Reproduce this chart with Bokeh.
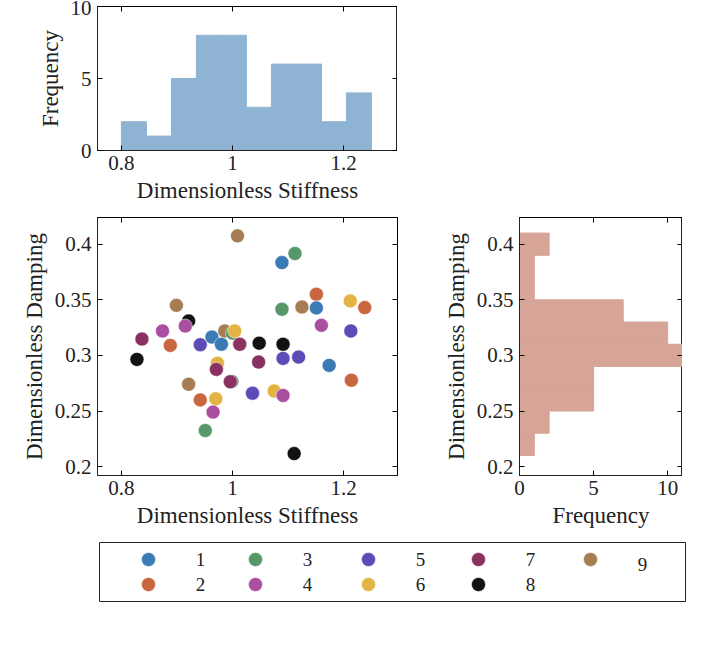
from bokeh.plotting import figure
from bokeh.layouts import column, row
from bokeh.models import LinearAxis, FixedTicker, Range1d, ColumnDataSource
from bokeh.core.properties import value
from bokeh.embed import file_html
from bokeh.resources import INLINE

stiff = [1.009,1.1125,1.089,1.151,1.212,1.238,1.089,1.125,1.151,0.899,0.921,0.915,0.874,0.837,0.888,
         0.942,0.963,0.980,0.986,1.000,1.004,1.013,1.048,1.091,1.160,1.213,0.828,0.973,0.971,1.047,
         1.091,1.119,1.174,0.921,0.999,0.996,1.214,1.036,1.075,1.091,0.942,0.970,0.965,0.951,1.111]
damp = [0.4075,0.3916,0.3835,0.355,0.349,0.343,0.3415,0.3435,0.3427,0.345,0.331,0.3264,0.322,0.3147,0.309,
        0.3096,0.3165,0.310,0.322,0.320,0.322,0.310,0.311,0.310,0.327,0.322,0.2964,0.293,0.2874,0.294,
        0.2973,0.2985,0.291,0.274,0.2766,0.2763,0.2777,0.266,0.268,0.264,0.260,0.261,0.249,0.2324,0.2117]
group = [9,3,1,2,6,2,3,9,1,9,8,4,4,7,2,
         5,1,1,9,3,6,7,8,8,4,5,8,6,7,7,
         5,5,1,9,3,7,2,5,6,4,2,6,4,3,8]
colors = {1:"#3b7ab5",2:"#c9653f",3:"#56986a",4:"#aa4fa0",5:"#5e4bb7",6:"#e3b443",7:"#8b3161",8:"#121212",9:"#a67c52"}

stiff_edges = [0.8,0.845,0.89,0.935,0.98,1.025,1.07,1.115,1.16,1.205,1.25]
stiff_counts = [2,1,5,8,8,3,6,6,2,4]
damp_edges = [0.21,0.23,0.25,0.27,0.29,0.31,0.33,0.35,0.37,0.39,0.41]
damp_counts = [1,2,5,5,11,10,7,1,1,2]

FONT = "'Liberation Serif', 'Times New Roman', serif"
XR = (0.757, 1.297)
YR = (0.192, 0.424)

def style(p, xt, yt, xlab, ylab):
    p.xaxis.ticker = FixedTicker(ticks=xt)
    p.yaxis.ticker = FixedTicker(ticks=yt)
    for ax in (p.xaxis[0], p.yaxis[0]):
        ax.major_tick_in = 5; ax.major_tick_out = 0; ax.minor_tick_line_color = None
        ax.major_label_text_font = FONT; ax.major_label_text_font_size = "21px"
        ax.axis_label_text_font = FONT; ax.axis_label_text_font_size = "23px"
        ax.axis_label_text_font_style = "normal"; ax.axis_line_color = "#222222"
        ax.major_label_text_color = "#222222"; ax.axis_label_text_color = "#222222"
    p.xaxis.axis_label = xlab; p.yaxis.axis_label = ylab
    ax2 = LinearAxis(ticker=FixedTicker(ticks=xt), major_label_text_font_size="0px", major_tick_in=5,
                     major_tick_out=0, minor_tick_line_color=None, major_label_standoff=0)
    ay2 = LinearAxis(ticker=FixedTicker(ticks=yt), major_label_text_font_size="0px", major_tick_in=5,
                     major_tick_out=0, minor_tick_line_color=None, major_label_standoff=0)
    p.add_layout(ax2, "above"); p.add_layout(ay2, "right")
    p.grid.visible = False
    p.outline_line_color = "#222222"
    p.yaxis[0].major_label_standoff = 6

# top histogram
top = figure(frame_width=300, frame_height=144, output_backend="svg", toolbar_location=None,
             x_range=Range1d(*XR), y_range=Range1d(0, 10),
             min_border_left=97, min_border_right=0, min_border_top=6, min_border_bottom=0)
top.quad(left=stiff_edges[:-1], right=stiff_edges[1:], bottom=0, top=stiff_counts,
         fill_color="#8fb3d2", line_color="#8fb3d2", fill_alpha=1)
style(top, [0.8, 1.0, 1.2], [0, 5, 10], "Dimensionless Stiffness", "Frequency")
top.xaxis[0].major_label_overrides = {0.8: "0.8", 1.0: "1", 1.2: "1.2"}

# scatter
sc = figure(frame_width=300, frame_height=258, output_backend="svg", toolbar_location=None,
            x_range=Range1d(*XR), y_range=Range1d(*YR),
            min_border_left=97, min_border_right=12, min_border_top=12, min_border_bottom=0)
src = ColumnDataSource(dict(x=stiff, y=damp, c=[colors[g] for g in group]))
sc.scatter("x", "y", source=src, size=14, fill_color="c", line_color="white", line_width=0.5)
style(sc, [0.8, 1.0, 1.2], [0.2, 0.25, 0.3, 0.35, 0.4], "Dimensionless Stiffness", "Dimensionless Damping")
sc.xaxis[0].major_label_overrides = {0.8: "0.8", 1.0: "1", 1.2: "1.2"}

# right histogram
rh = figure(frame_width=163, frame_height=258, output_backend="svg", toolbar_location=None,
            x_range=Range1d(0, 11), y_range=Range1d(*YR),
            min_border_left=110, min_border_right=0, min_border_top=12, min_border_bottom=0)
rh.quad(left=0, right=damp_counts, bottom=damp_edges[:-1], top=damp_edges[1:],
        fill_color="#d6a597", line_color="#d6a597")
style(rh, [0, 5, 10], [0.2, 0.25, 0.3, 0.35, 0.4], "Frequency", "Dimensionless Damping")

# legend
lg = figure(width=702, height=86, output_backend="svg", toolbar_location=None,
            x_range=Range1d(0, 702), y_range=Range1d(86, 0),
            min_border=0, outline_line_color=None)
lg.axis.visible = False; lg.grid.visible = False
lg.quad(left=[99], right=[685], top=[12], bottom=[71], fill_color=None, line_color="#222222")
labels = [1, 3, 5, 7, 9, 2, 4, 6, 8]
mx = [148, 255, 368, 478, 590, 148, 255, 368, 478]
my = [29, 29, 29, 29, 29, 54, 54, 54, 54]
lg.scatter(mx, my, size=14, fill_color=[colors[l] for l in labels], line_color="white", line_width=0.5)
lg.text([m + 52 for m in mx], [y + (5 if l == 9 else 0) for y, l in zip(my, labels)],
        text=[str(l) for l in labels], text_font=value(FONT), text_font_size="19px",
        text_baseline="middle", text_align="center", text_color="#222222")

layout = column(row(top), row(sc, rh), lg, spacing=0)
open("out.html", "w").write(file_html(layout, INLINE))
